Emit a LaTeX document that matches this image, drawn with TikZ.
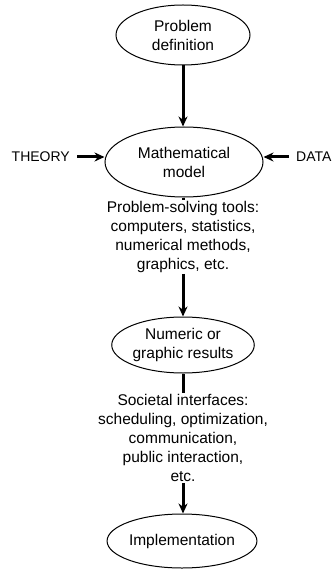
\documentclass[tikz,border=0pt]{standalone}
\usepackage{fontspec}
\setmainfont{Liberation Sans}
\usetikzlibrary{arrows.meta,shapes.geometric}
\begin{document}
\begin{tikzpicture}[x=1pt,y=-1pt,
  stage/.style={draw,ellipse,line width=1pt,inner sep=0pt,font=\fontsize{15.5}{19}\selectfont,align=center},
  txt/.style={font=\fontsize{15.5}{19}\selectfont,align=center,inner sep=1pt},
  side/.style={font=\fontsize{14}{17}\selectfont,inner sep=1pt},
  flow/.style={line width=3pt,-{Stealth[length=10pt,width=9pt]}},
  link/.style={line width=3pt}]
\useasboundingbox (0,0) rectangle (333,572);
\node[stage,minimum width=134pt,minimum height=60pt] (pd) at (183,35) {Problem\\definition};
\node[stage,minimum width=158pt,minimum height=70pt] (mm) at (184,162) {Mathematical\\model};
\node[side,anchor=east] (th) at (71,157) {THEORY};
\node[side,anchor=west] (da) at (295,157) {DATA};
\node[txt,anchor=north] (tools) at (183,200) {Problem-solving tools:\\computers, statistics,\\numerical methods,\\graphics, etc.};
\node[stage,minimum width=134pt,minimum height=56pt] (nr) at (183,345) {Numeric or\\graphic results};
\node[txt,anchor=north] (soc) at (183,393) {Societal interfaces:\\scheduling, optimization,\\communication,\\public interaction,\\etc.};
\node[stage,minimum width=143pt,minimum height=54pt] (im) at (182,541) {Implementation};
\draw[flow] (pd.south) -- (pd.south |- mm.north);
\draw[flow] (th.east) ++(6,0) coordinate (thx) -- (mm.west |- thx);
\draw[flow] (da.west) ++(-6,0) coordinate (dax) -- (mm.east |- dax);
\draw[link] (tools.north |- mm.south) -- (tools.north);
\draw[flow] (tools.south) -- (tools.south |- nr.north);
\draw[link] (nr.south) -- (nr.south |- soc.north);
\draw[flow] (soc.south) -- (soc.south |- im.north);
\end{tikzpicture}
\end{document}
